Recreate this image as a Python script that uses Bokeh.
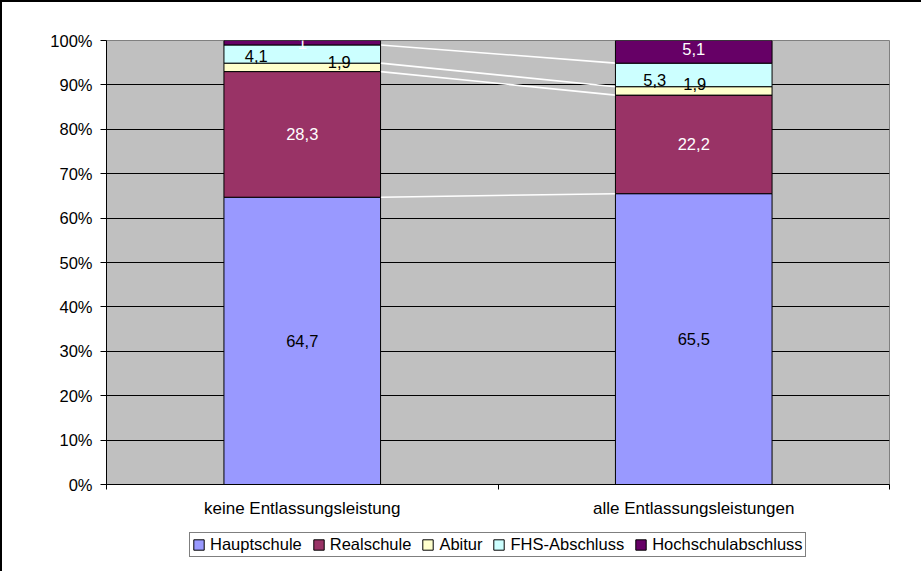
from bokeh.plotting import figure
from bokeh.layouts import column
from bokeh.models import FixedTicker, Legend, LegendItem
from bokeh.embed import file_html
from bokeh.resources import INLINE

# ---------------- data ----------------
categories = ["keine Entlassungsleistung", "alle Entlassungsleistungen"]
series_names = ["Hauptschule", "Realschule", "Abitur", "FHS-Abschluss", "Hochschulabschluss"]
hauptschule = [64.7, 65.5]
realschule = [28.3, 22.2]
abitur = [1.9, 1.9]
fhs_abschluss = [4.1, 5.3]
hochschulabschluss = [1.0, 5.1]
y_ticks = [0, 10, 20, 30, 40, 50, 60, 70, 80, 90, 100]
y_tick_labels = ["0%", "10%", "20%", "30%", "40%", "50%", "60%", "70%", "80%", "90%", "100%"]

series_values = [hauptschule, realschule, abitur, fhs_abschluss, hochschulabschluss]

# ---------------- styles ----------------
colors = ["#9999FF", "#993366", "#FFFFCC", "#CCFFFF", "#660066"]
label_colors = ["black", "white", "black", "black", "white"]
# screen-pixel nudges of the data labels (Excel's overlap avoidance), per series and category
label_dx = [[0, 0], [0, 0], [37, 1], [-46, -39], [0, 0]]
label_dy = [[0, 0], [0, 0], [-5.5, -7], [2, 4.6], [0, -3]]
FONT = "Liberation Sans"
FS = "16.5px"
BAR_W = 0.4

xs = [i + 0.5 for i in range(len(categories))]

p = figure(width=919, height=523, x_range=(0, len(categories)), y_range=(0, 100),
           output_backend="svg", toolbar_location=None,
           min_border_left=104, min_border_right=32, min_border_top=38, min_border_bottom=41,
           background_fill_color="#C0C0C0", border_fill_color="white",
           outline_line_color="#808080", outline_line_width=1)

# cumulative tops
bottoms = []
tops = []
acc = [0.0] * len(categories)
for vals in series_values:
    b = list(acc)
    t = [a + v for a, v in zip(acc, vals)]
    bottoms.append(b)
    tops.append(t)
    acc = t

# series lines (white connectors between the bars)
for i in range(len(categories) - 1):
    y0 = [tops[k][i] for k in range(len(series_values) - 1)]
    y1 = [tops[k][i + 1] for k in range(len(series_values) - 1)]
    p.segment(x0=[xs[i] + BAR_W / 2] * len(y0), x1=[xs[i + 1] - BAR_W / 2] * len(y0),
              y0=y0, y1=y1, line_color="white", line_width=1.6)

for k, name in enumerate(series_names):
    p.vbar(x=xs, bottom=bottoms[k], top=tops[k], width=BAR_W,
           fill_color=colors[k], line_color="black", line_width=1)

def fmt(v):
    return ("%g" % v).replace(".", ",")

for k in range(len(series_names)):
    mids = [(b + t) / 2 for b, t in zip(bottoms[k], tops[k])]
    p.text(x=xs, y=mids, text=[fmt(v) for v in series_values[k]],
           x_offset=label_dx[k], y_offset=label_dy[k],
           text_align="center", text_baseline="middle",
           text_color=label_colors[k], text_font_size=FS,
           text_font={"value": FONT})

# x axis
xa = p.xaxis[0]
xa.ticker = FixedTicker(ticks=xs, minor_ticks=list(range(len(categories) + 1)))
xa.major_label_overrides = dict(zip(xs, categories))
xa.major_tick_line_color = None
xa.major_tick_out = 0
xa.major_tick_in = 0
xa.minor_tick_out = 5
xa.minor_tick_in = 0
xa.minor_tick_line_color = "black"
xa.axis_line_color = "black"
xa.major_label_standoff = 9
xa.major_label_text_font = FONT
xa.major_label_text_font_size = "17px"
xa.major_label_text_color = "black"

# y axis
ya = p.yaxis[0]
ya.ticker = FixedTicker(ticks=y_ticks)
ya.major_label_overrides = dict(zip(y_ticks, y_tick_labels))
ya.major_tick_out = 6
ya.major_tick_in = 0
ya.minor_tick_line_color = None
ya.major_tick_line_color = "black"
ya.axis_line_color = "black"
ya.major_label_standoff = 8
ya.major_label_text_font = FONT
ya.major_label_text_font_size = FS
ya.major_label_text_color = "black"

p.xgrid.visible = False
p.ygrid.ticker = FixedTicker(ticks=y_ticks[1:-1])
p.ygrid.grid_line_color = "black"
p.ygrid.grid_line_width = 1

# ---------------- legend strip ----------------
lf = figure(width=919, height=46, x_range=(0, len(categories)), y_range=(0, 100),
            output_backend="svg", toolbar_location=None,
            min_border_left=0, min_border_right=0, min_border_top=0, min_border_bottom=0,
            background_fill_color="white", border_fill_color="white", outline_line_color=None)
lf.axis.visible = False
lf.grid.visible = False
leg_renderers = []
for k, name in enumerate(series_names):
    r = lf.vbar(x=xs, bottom=bottoms[k], top=tops[k], width=BAR_W,
                fill_color=colors[k], line_color="black", line_width=1)
    r.visible = False  # only its legend swatch is shown
    leg_renderers.append(r)

legend = Legend(items=[LegendItem(label=n, renderers=[r]) for n, r in zip(series_names, leg_renderers)],
                orientation="horizontal", location=(83, 14),
                border_line_color="black", border_line_width=1,
                background_fill_color="white", background_fill_alpha=1,
                inactive_fill_alpha=0,
                label_text_font=FONT, label_text_font_size=FS, label_text_color="black",
                glyph_width=13, glyph_height=13, label_standoff=5, spacing=10,
                padding=2, margin=0, label_height=19)
lf.add_layout(legend)

layout = column(p, lf, spacing=0,
                styles={"border-left": "2px solid black", "border-top": "2px solid black"})

open("out.html", "w").write(file_html(layout, INLINE))
